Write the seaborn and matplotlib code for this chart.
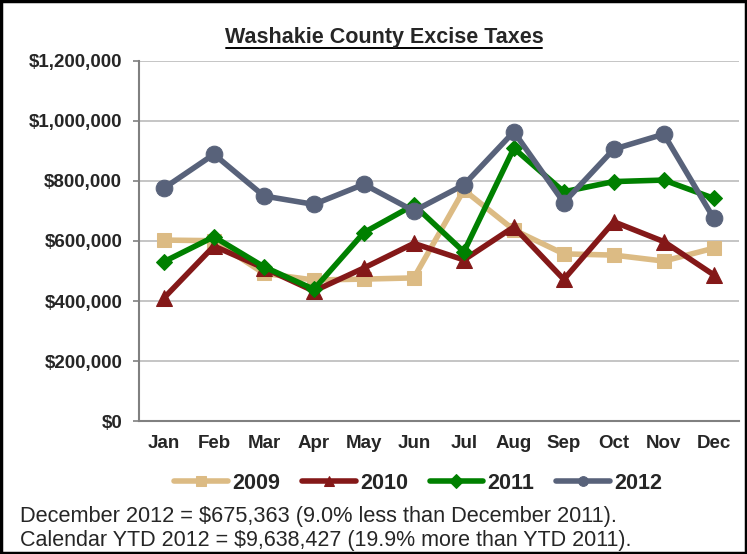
import pandas as pd
import numpy as np
import matplotlib.pyplot as plt
import seaborn as sns
from matplotlib.ticker import FuncFormatter, FixedLocator

# Monthly excise tax collections
months = ['Jan', 'Feb', 'Mar', 'Apr', 'May', 'Jun', 'Jul', 'Aug', 'Sep', 'Oct', 'Nov', 'Dec']
tax_2009 = [603000, 601000, 492000, 470000, 473000, 477000, 770000, 637000, 557000, 553000, 533000, 576000]
tax_2010 = [410000, 583000, 510000, 433000, 510000, 592000, 537000, 647000, 472000, 664000, 598000, 487000]
tax_2011 = [531000, 614000, 514000, 439000, 628000, 720000, 564000, 909000, 764000, 798000, 803000, 742157]
tax_2012 = [776000, 889000, 750000, 722000, 789000, 700000, 787000, 964000, 728000, 906000, 956000, 675363]
years = ['2009', '2010', '2011', '2012']
colors = ['#DCBB84', '#841818', '#008000', '#58627A']
markers = ['s', '^', 'D', 'o']
msizes = [10, 11, 8, 12]

notes = ["December 2012 = $675,363 (9.0% less than December 2011).",
         "Calendar YTD 2012 = $9,638,427 (19.9% more than YTD 2011)."]

df = pd.DataFrame({'month': months * 4,
                   'year': np.repeat(years, 12),
                   'tax': tax_2009 + tax_2010 + tax_2011 + tax_2012})

sns.set_style('white')
plt.rcParams['font.family'] = ['Liberation Sans', 'DejaVu Sans']

fig = plt.figure(figsize=(7.47, 5.54), dpi=100)
ax = fig.add_axes([0.186, 0.240, 0.803, 0.650])

for yr, col, mk, ms in zip(years, colors, markers, msizes):
    sub = df[df['year'] == yr]
    sns.lineplot(data=sub, x='month', y='tax', color=col, marker=mk, markersize=ms,
                 markeredgecolor=col, linewidth=4, sort=False, label=yr, ax=ax)

ax.set_xlim(-0.5, 11.5)
ax.set_ylim(0, 1200000)
ax.set_yticks(np.arange(0, 1200001, 200000))
ax.yaxis.set_major_formatter(FuncFormatter(lambda v, p: '${:,.0f}'.format(v)))
ax.grid(axis='y', color='#BBBBBB', linewidth=1.2)
ax.set_axisbelow(True)
ax.set_xlabel('')
ax.set_ylabel('')

for s in ['top', 'right']:
    ax.spines[s].set_visible(False)
for s in ['left', 'bottom']:
    ax.spines[s].set_color('#808080')
    ax.spines[s].set_linewidth(1.5)

ax.xaxis.set_minor_locator(FixedLocator(np.arange(-0.5, 12, 1)))
ax.tick_params(axis='x', which='major', length=0, pad=10)
ax.tick_params(axis='x', which='minor', length=4, color='#808080', width=1.2, direction='out')
ax.tick_params(axis='y', length=4, color='#808080', width=1.2, direction='out', left=True, pad=8)
for lbl in ax.get_xticklabels() + ax.get_yticklabels():
    lbl.set_fontweight('bold')
    lbl.set_fontsize(13.5)

ax.get_legend().remove()
handles, labels = ax.get_legend_handles_labels()
leg = fig.legend(handles, labels, loc='center', bbox_to_anchor=(0.56, 0.128), ncol=4,
                 frameon=False, prop={'weight': 'bold', 'size': 15.5}, handlelength=2.5,
                 handletextpad=0.2, columnspacing=1.0)
for h in leg.legend_handles:
    h.set_markersize(7)

fig.text(0.514, 0.933, 'Washakie County Excise Taxes', ha='center', va='center',
         fontsize=15.5, fontweight='bold')
fig.add_artist(plt.Line2D([0.3025, 0.7256], [0.914, 0.914], color='black', linewidth=1.4))

fig.text(0.027, 0.068, notes[0], ha='left', va='center', fontsize=15.7)
fig.text(0.027, 0.025, notes[1], ha='left', va='center', fontsize=15.5)

fig.add_artist(plt.Rectangle((0.002, 0.002), 0.996, 0.996, transform=fig.transFigure,
                             fill=False, edgecolor='black', linewidth=2.5))

fig.savefig('out.png', dpi=100)
